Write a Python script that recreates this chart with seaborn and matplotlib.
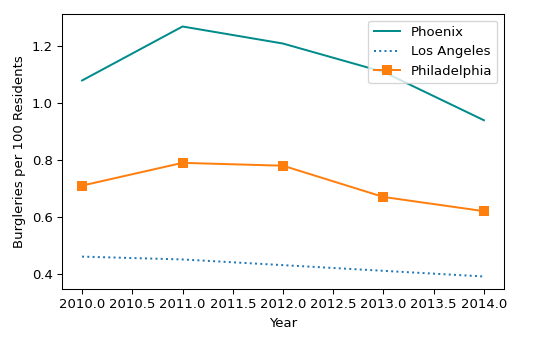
import matplotlib
matplotlib.use("Agg")
import matplotlib.pyplot as plt
import seaborn as sns
import pandas as pd

years = [2010, 2011, 2012, 2013, 2014]
phoenix = [1.08, 1.27, 1.21, 1.11, 0.94]
los_angeles = [0.46, 0.45, 0.43, 0.41, 0.39]
philadelphia = [0.71, 0.79, 0.78, 0.67, 0.62]

df = pd.DataFrame({"Year": years, "Phoenix": phoenix,
                   "Los Angeles": los_angeles, "Philadelphia": philadelphia})

dpi = 95
fig = plt.figure(figsize=(533 / dpi, 344 / dpi), dpi=dpi)
ax = fig.add_axes([62 / 533, 1 - 289 / 344, (504 - 62) / 533, (289 - 14) / 344])

sns.lineplot(data=df, x="Year", y="Phoenix", ax=ax, color="#008b8b",
             linewidth=1.5, label="Phoenix")
sns.lineplot(data=df, x="Year", y="Los Angeles", ax=ax, color="#1f77b4",
             linewidth=1.5, linestyle=":", label="Los Angeles")
sns.lineplot(data=df, x="Year", y="Philadelphia", ax=ax, color="#ff7f0e",
             linewidth=1.5, marker="s", markersize=7, markeredgewidth=0,
             label="Philadelphia")

ax.set_xlabel("Year")
ax.set_ylabel("Burgleries per 100 Residents")
ax.set_xticks([2010.0, 2010.5, 2011.0, 2011.5, 2012.0, 2012.5, 2013.0, 2013.5, 2014.0])
ax.set_xticklabels(["2010.0", "2010.5", "2011.0", "2011.5", "2012.0",
                    "2012.5", "2013.0", "2013.5", "2014.0"])
ax.set_yticks([0.4, 0.6, 0.8, 1.0, 1.2])
ax.set_yticklabels(["0.4", "0.6", "0.8", "1.0", "1.2"])
ax.legend(loc="upper right")

fig.savefig("out.png", dpi=dpi)
